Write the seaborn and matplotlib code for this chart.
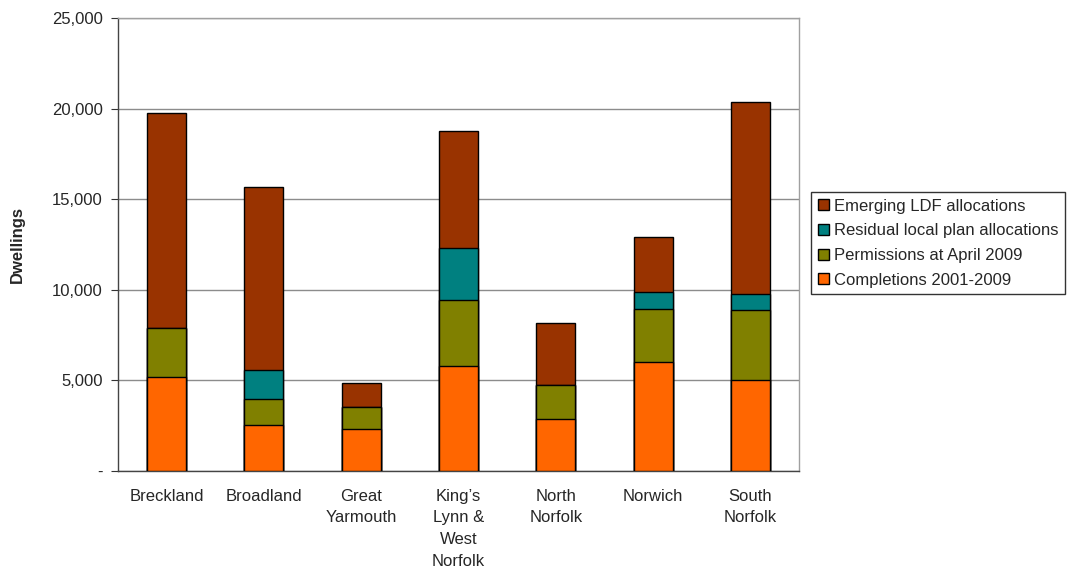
import numpy as np
import pandas as pd
import seaborn as sns
import matplotlib.pyplot as plt
from matplotlib.patches import Patch
from matplotlib.ticker import FixedLocator, FuncFormatter

# Dados (habitações por distrito)
districts = ['Breckland', 'Broadland', 'Great\nYarmouth', 'King\u2019s\nLynn &\nWest\nNorfolk',
             'North\nNorfolk', 'Norwich', 'South\nNorfolk']
completions = [5200, 2530, 2290, 5790, 2860, 6010, 5000]
permissions = [2660, 1440, 1220, 3620, 1880, 2900, 3870]
residual = [0, 1600, 0, 2910, 0, 980, 910]
emerging = [11920, 10080, 1360, 6460, 3430, 3030, 10590]

series_names = ['Completions 2001-2009', 'Permissions at April 2009',
                'Residual local plan allocations', 'Emerging LDF allocations']
series_colors = ['#FF6600', '#808000', '#008080', '#993300']

sns.set_style('white')
plt.rcParams['font.family'] = ['Liberation Sans', 'DejaVu Sans']

df = pd.DataFrame({'district': districts, 'c': completions, 'p': permissions,
                   'r': residual, 'e': emerging})
cum = np.cumsum(df[['c', 'p', 'r', 'e']].to_numpy(), axis=1)

fig = plt.figure(figsize=(10.78, 5.71), dpi=100)
ax = fig.add_axes([118 / 1078, 1 - 470.7 / 571, (799 - 118) / 1078, (470.7 - 18.3) / 571])

# Empilhar desenhando os totais acumulados do topo para a base
for i in range(3, -1, -1):
    sns.barplot(x=df['district'], y=cum[:, i], color=series_colors[i], width=0.4,
                edgecolor='black', linewidth=1, saturation=1, ax=ax, zorder=3)

ax.set_ylim(0, 25000)
ax.set_xlim(-0.5, len(districts) - 0.5)
ax.yaxis.set_major_locator(FixedLocator(np.arange(0, 25001, 5000)))
ax.yaxis.set_major_formatter(FuncFormatter(lambda v, p: '-' if v == 0 else f'{int(v):,}'))
ax.grid(axis='y', color='#8c8c8c', linewidth=1, zorder=0)
ax.set_axisbelow(True)

ax.set_xlabel('')
ax.set_ylabel('Dwellings', fontsize=12, fontweight='bold')
ax.yaxis.set_label_coords((25 - 118) / 681, 0.5)
ax.tick_params(axis='x', which='major', length=0, labelsize=12, pad=13)
for lbl in ax.get_xticklabels():
    lbl.set_linespacing(1.55)
ax.xaxis.set_minor_locator(FixedLocator(np.arange(-0.5, len(districts), 1)))
ax.tick_params(axis='x', which='minor', length=5, direction='out', color='#333333')
ax.tick_params(axis='y', length=5, direction='out', labelsize=12, color='#333333', left=True, pad=6)

for s in ['top', 'right']:
    ax.spines[s].set_color('#a0a0a0')
for s in ['left', 'bottom']:
    ax.spines[s].set_color('#444444')
for s in ax.spines.values():
    s.set_linewidth(1)
    s.set_visible(True)

handles = [Patch(facecolor=series_colors[i], edgecolor='black', linewidth=1, label=series_names[i])
           for i in range(3, -1, -1)]
leg = fig.legend(handles=handles, loc='upper left', bbox_to_anchor=(811 / 1078, 1 - 192 / 571),
                 fontsize=12, frameon=True, fancybox=False, handlelength=0.65, handleheight=0.65,
                 handletextpad=0.3, borderpad=0.4, labelspacing=0.58, borderaxespad=0)
leg.get_frame().set_edgecolor('black')
leg.get_frame().set_linewidth(1)

fig.savefig('out.png', dpi=100)
